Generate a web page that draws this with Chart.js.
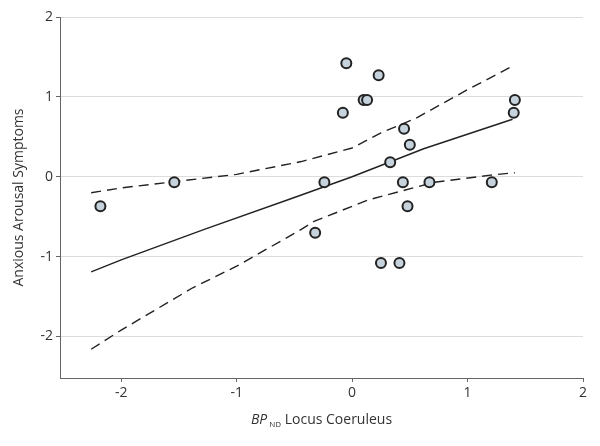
<!DOCTYPE html>
<html>
<head>
<meta charset="utf-8">
<script src="https://cdn.jsdelivr.net/npm/chart.js@4/dist/chart.umd.min.js"></script>
<style>
  html, body { margin: 0; padding: 0; background: #fff; }
  #wrap { width: 600px; height: 446px; }
</style>
</head>
<body>
<div id="wrap"><canvas id="c" width="600" height="446"></canvas></div>
<script>
// data
const bpX = [-2.18, -1.54, -0.05, 0.23, 0.10, 0.13, -0.08, 0.45, 0.50, 0.33,
             -0.24, 0.44, 0.67, 1.21, 0.48, 1.41, 1.40, -0.32, 0.25, 0.41];
const arousalY = [-0.37, -0.07, 1.42, 1.27, 0.96, 0.96, 0.80, 0.60, 0.40, 0.18,
                  -0.07, -0.07, -0.07, -0.07, -0.37, 0.96, 0.80, -0.70, -1.08, -1.08];

const fitX = [-2.26, -2.0, -1.28, -0.5, 0.0, 0.62, 1.39];
const fitY = [-1.19, -1.04, -0.66, -0.26, 0.0, 0.35, 0.72];

const upperX = [-2.26, -2.0, -1.0, -0.44, 0.0, 0.25, 0.55, 1.0, 1.41];
const upperY = [-0.20, -0.14, 0.03, 0.19, 0.36, 0.55, 0.73, 1.09, 1.40];

const lowerX = [-2.26, -2.0, -1.38, -1.0, -0.44, -0.33, 0.14, 0.71, 1.2, 1.41];
const lowerY = [-2.16, -1.92, -1.39, -1.12, -0.66, -0.56, -0.29, -0.07, 0.02, 0.05];

const xTicks = [-2, -1, 0, 1, 2];
const yTicks = [-2, -1, 0, 1, 2];

const pts = (xs, ys) => xs.map((x, i) => ({ x: x, y: ys[i] }));

const FONT = '"Open Sans", "Noto Sans", sans-serif';
const TXT = '#333';

// x axis title with italic BP and subscript ND
const xTitlePlugin = {
  id: 'xTitle',
  afterDraw(chart) {
    const ctx = chart.ctx;
    ctx.save();
    ctx.fillStyle = TXT;
    ctx.textBaseline = 'alphabetic';
    const base = 424;
    ctx.font = 'italic 14px ' + FONT;
    const bp = 'BP';
    const sub = 'ND';
    const rest = ' Locus Coeruleus';
    const wBp = ctx.measureText(bp).width;
    ctx.font = '8px ' + FONT;
    const wSub = ctx.measureText(sub).width;
    ctx.font = '14px ' + FONT;
    const wRest = ctx.measureText(rest).width;
    const area = chart.chartArea;
    let x = (area.left + area.right) / 2 - (wBp + wSub + wRest + 2) / 2;
    ctx.font = 'italic 14px ' + FONT;
    ctx.fillText(bp, x, base);
    x += wBp + 2;
    ctx.font = '8px ' + FONT;
    ctx.fillText(sub, x, base + 3);
    x += wSub;
    ctx.font = '14px ' + FONT;
    ctx.fillText(rest, x, base);
    ctx.restore();
  }
};

new Chart(document.getElementById('c'), {
  type: 'scatter',
  data: {
    datasets: [
      {
        label: 'Participants',
        data: pts(bpX, arousalY),
        pointRadius: 5,
        pointHoverRadius: 5,
        pointBorderWidth: 2,
        pointBorderColor: '#222',
        pointBackgroundColor: '#c6d3dc'
      },
      {
        type: 'line',
        label: 'Fit',
        data: pts(fitX, fitY),
        borderColor: '#222',
        borderWidth: 1.4,
        pointRadius: 0,
        fill: false,
        tension: 0
      },
      {
        type: 'line',
        label: 'Upper',
        data: pts(upperX, upperY),
        borderColor: '#222',
        borderWidth: 1.4,
        borderDash: [10, 6],
        pointRadius: 0,
        fill: false,
        tension: 0
      },
      {
        type: 'line',
        label: 'Lower',
        data: pts(lowerX, lowerY),
        borderColor: '#222',
        borderWidth: 1.4,
        borderDash: [10, 6],
        pointRadius: 0,
        fill: false,
        tension: 0
      }
    ]
  },
  options: {
    responsive: false,
    animation: false,
    layout: { padding: { top: 17, right: 17, left: 11, bottom: 0 } },
    plugins: {
      legend: { display: false },
      tooltip: { enabled: false }
    },
    scales: {
      x: {
        type: 'linear',
        min: -2.53,
        max: 2,
        afterBuildTicks: s => { s.ticks = xTicks.map(v => ({ value: v })); },
        afterFit: s => { s.height = 68; },
        border: { color: '#666', width: 1 },
        grid: { drawOnChartArea: false, tickLength: 4, tickColor: '#666' },
        ticks: { color: TXT, font: { family: FONT, size: 14 }, padding: 3 }
      },
      y: {
        type: 'linear',
        min: -2.52,
        max: 2,
        afterBuildTicks: s => { s.ticks = yTicks.map(v => ({ value: v })); },
        afterFit: s => { s.width = 49; },
        border: { color: '#666', width: 1 },
        grid: { color: '#dcdcdc', lineWidth: 1, tickLength: 4, tickColor: '#666' },
        ticks: { color: TXT, font: { family: FONT, size: 14 }, padding: 3 },
        title: {
          display: true,
          text: 'Anxious Arousal Symptoms',
          color: TXT,
          font: { family: FONT, size: 14 },
          padding: 0
        }
      }
    }
  },
  plugins: [xTitlePlugin]
});
</script>
</body>
</html>
